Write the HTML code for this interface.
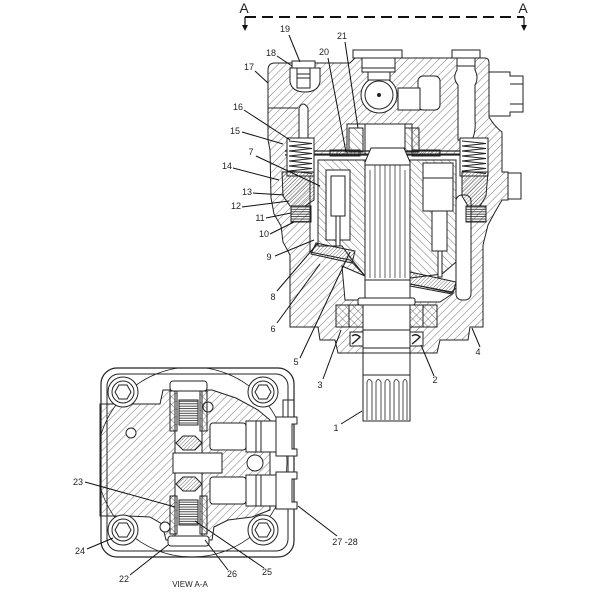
<!DOCTYPE html>
<html><head><meta charset="utf-8"><style>
html,body{margin:0;padding:0;background:#fff;}
svg{display:block;}
text{font-family:"Liberation Sans",sans-serif;font-size:9px;fill:#222;}
</style></head><body>
<svg width="600" height="600" viewBox="0 0 600 600" xmlns="http://www.w3.org/2000/svg">
<defs>
<pattern id="h" width="5.5" height="5.5" patternUnits="userSpaceOnUse" patternTransform="rotate(45)"><line x1="0" y1="0" x2="0" y2="5.5" stroke="#555" stroke-width="0.8"/></pattern>
<pattern id="h2" width="5.5" height="5.5" patternUnits="userSpaceOnUse" patternTransform="rotate(-45)"><line x1="0" y1="0" x2="0" y2="5.5" stroke="#555" stroke-width="0.8"/></pattern>
<pattern id="d" width="2.6" height="2.6" patternUnits="userSpaceOnUse" patternTransform="rotate(45)"><line x1="0" y1="0" x2="0" y2="2.6" stroke="#333" stroke-width="0.7"/></pattern>
<pattern id="hl" width="4" height="2.4" patternUnits="userSpaceOnUse"><line x1="0" y1="0.6" x2="4" y2="0.6" stroke="#222" stroke-width="0.8"/></pattern>
<clipPath id="fr"><rect x="101" y="368" width="193" height="189" rx="16"/></clipPath>
</defs>

<!-- Section line A-A -->
<line x1="245" y1="17" x2="524" y2="17" stroke="#111" stroke-width="2" stroke-dasharray="11,6"/>
<line x1="245" y1="17" x2="245" y2="26" stroke="#111" stroke-width="1.2"/>
<line x1="524" y1="17" x2="524" y2="26" stroke="#111" stroke-width="1.2"/>
<path d="M242,25 L248,25 L245,31 z" fill="#111"/>
<path d="M521,25 L527,25 L524,31 z" fill="#111"/>
<text x="244" y="13" text-anchor="middle" style="font-size:14px">A</text>
<text x="523" y="13" text-anchor="middle" style="font-size:14px">A</text>

<!-- ===== MAIN PUMP ===== -->
<g stroke="#222" stroke-width="1">
<path d="M268,70 Q268,63 275,63 L350,63 L355,58 L485,58 Q489,58 489,63 L489,117 Q495,127 502,132 L502,172 L508,172 L508,200 L502,200 L495,212 L488,225 L483,245 L483,327 L470,327 L468,340 L440,340 L437,353 L338,353 L335,340 L320,340 L318,327 L290,327 L290,255 L283,242 L281,226 L274,214 L271,198 L270,150 L268,140 Z" fill="url(#h)"/>
<rect x="508" y="173" width="13" height="26" fill="#fff"/>
<path d="M489,72 L510,72 L510,76 L523,76 L523,112 L510,112 L510,116 L489,116 Z" fill="#fff"/>
<line x1="510" y1="84" x2="523" y2="84"/><line x1="510" y1="104" x2="523" y2="104"/>
<rect x="353" y="50" width="49" height="8" fill="#fff"/>
<rect x="362" y="58" width="33" height="14" fill="#fff"/>
<line x1="362" y1="68" x2="395" y2="68"/>
<rect x="452" y="50" width="28" height="8" fill="#fff"/>
<path d="M457,58 L475,58 L475,70 Q479,78 475,85 L475,120 Q476,132 472,140 L458,140 L458,85 Q452,78 457,70 Z" fill="#fff"/>
<line x1="457" y1="66" x2="475" y2="66"/>
<path d="M290,68 L320,68 L320,82 Q318,92 305,92 Q292,92 290,82 Z" fill="#fff"/>
<rect x="292" y="61" width="23" height="7" fill="#fff"/>
<rect x="297" y="68" width="13" height="20" fill="#fff"/>
<line x1="297" y1="74" x2="310" y2="74"/><line x1="297" y1="78" x2="310" y2="78"/>
<line x1="268" y1="108" x2="298" y2="108"/>
<path d="M299,140 L299,108 Q303,100 308,108 L308,140 Z" fill="#fff"/>
<circle cx="379" cy="95" r="18" fill="#fff"/>
<circle cx="379" cy="95" r="14" fill="#fff"/>
<circle cx="379" cy="95" r="1.5" fill="#222"/>
<rect x="368" y="72" width="22" height="8" fill="#fff"/>
<rect x="418" y="76" width="22" height="34" rx="5" fill="#fff"/>
<rect x="398" y="88" width="22" height="22" fill="#fff"/>
<rect x="347" y="124" width="65" height="30" fill="#fff"/>
<rect x="349" y="128" width="14" height="24" fill="url(#h2)"/>
<rect x="405" y="128" width="14" height="24" fill="url(#h2)"/>
<rect x="365" y="124" width="40" height="30" fill="#fff"/>
<path d="M310,154 L462,154 L462,282 L452,292 L410,284 L365,276 L350,260 L310,252 Z" fill="#fff"/>
<rect x="456" y="195" width="15" height="105" rx="6" fill="#fff"/>
<line x1="285" y1="151" x2="462" y2="151" stroke-width="1.3"/>
<line x1="285" y1="155" x2="462" y2="155" stroke-width="1.3"/>
<rect x="330" y="150" width="30" height="6" fill="url(#d)"/>
<rect x="412" y="150" width="28" height="6" fill="url(#d)"/>
<rect x="287" y="138" width="27" height="38" fill="#fff"/>
<polyline fill="none" stroke-width="0.9" points="289,141 312,143.5 289,146 312,148.5 289,151 312,153.5 289,156 312,158.5 289,161 312,163.5 289,166 312,168.5 289,171 312,173.5"/>
<rect x="460" y="138" width="28" height="38" fill="#fff"/>
<polyline fill="none" stroke-width="0.9" points="462,141 486,143.5 462,146 486,148.5 462,151 486,153.5 462,156 486,158.5 462,161 486,163.5 462,166 486,168.5 462,171 486,173.5"/>
<path d="M282,172 L314,172 L314,200 L305,206 L290,206 L283,196 Z" fill="url(#d)"/>
<path d="M462,172 L488,172 L486,196 L480,206 L468,206 L462,196 Z" fill="url(#d)"/>
<rect x="291" y="206" width="20" height="16" fill="url(#hl)"/>
<rect x="466" y="206" width="20" height="16" fill="url(#hl)"/>
<path d="M318,160 L365,160 L365,276 L352,260 L342,246 L318,246 Z" fill="url(#h2)"/>
<path d="M410,160 L456,160 L456,262 L442,274 L410,278 Z" fill="url(#h2)"/>
<rect x="326" y="170" width="24" height="70" fill="#fff"/>
<rect x="331" y="176" width="14" height="40" fill="#fff"/>
<rect x="336" y="216" width="4" height="30" fill="#fff"/>
<rect x="423" y="163" width="30" height="48" fill="#fff"/>
<line x1="423" y1="178" x2="453" y2="178"/>
<rect x="432" y="211" width="15" height="40" fill="#fff"/>
<rect x="438" y="251" width="4" height="26" fill="#fff"/>
<path d="M316,243 L355,251 L352,263 L311,254 Z" fill="url(#d)"/>
<path d="M410,272 L456,282 L453,293 L410,284 Z" fill="url(#d)"/>
<path d="M342,266 L365,276 L365,300 L345,300 Z" fill="#fff"/>
<path d="M410,286 L452,294 L440,302 L410,302 Z" fill="#fff"/>
<path d="M371,148 L404,148 L410,162 L410,300 L365,300 L365,162 Z" fill="#fff"/>
<g stroke-width="0.7">
<line x1="370" y1="170" x2="370" y2="278"/><line x1="375" y1="165" x2="375" y2="278"/>
<line x1="380" y1="165" x2="380" y2="278"/><line x1="385" y1="165" x2="385" y2="278"/>
<line x1="390" y1="165" x2="390" y2="278"/><line x1="395" y1="165" x2="395" y2="278"/>
<line x1="400" y1="165" x2="400" y2="278"/><line x1="405" y1="170" x2="405" y2="278"/>
</g>
<line x1="365" y1="165" x2="410" y2="165"/>
<line x1="365" y1="280" x2="410" y2="280"/>
<rect x="336" y="305" width="27" height="22" fill="url(#h2)"/>
<rect x="410" y="305" width="27" height="22" fill="url(#h2)"/>
<line x1="349" y1="305" x2="349" y2="327"/><line x1="423" y1="305" x2="423" y2="327"/>
<rect x="350" y="332" width="13" height="14" fill="#fff"/>
<rect x="410" y="332" width="13" height="14" fill="#fff"/>
<path d="M352,336 q4,-3 8,1 q-4,4 -8,7" fill="none" stroke-width="1.4"/>
<path d="M412,336 q4,-3 8,1 q-4,4 -8,7" fill="none" stroke-width="1.4"/>
<rect x="358" y="298" width="57" height="7" rx="2" fill="#fff"/>
<rect x="363" y="305" width="47" height="116" fill="#fff"/>
<line x1="363" y1="330" x2="410" y2="330"/>
<line x1="363" y1="348" x2="410" y2="348"/>
<line x1="363" y1="353" x2="410" y2="353"/>
<line x1="363" y1="375" x2="410" y2="375"/>
<g stroke-width="0.8" fill="none">
<path d="M367,420 L367,382 Q369,377 372,382 L372,420"/>
<path d="M376,420 L376,382 Q378,377 381,382 L381,420"/>
<path d="M385,420 L385,382 Q387,377 390,382 L390,420"/>
<path d="M394,420 L394,382 Q396,377 399,382 L399,420"/>
<path d="M403,420 L403,382 Q405,377 407,382 L407,420"/>
</g>
</g>

<!-- ===== VIEW A-A ===== -->
<g stroke="#222" stroke-width="1">
<rect x="101" y="368" width="193" height="189" rx="16" fill="#fff" stroke-width="1.2"/>
<rect x="107" y="374" width="181" height="177" rx="12" fill="none"/>
<g clip-path="url(#fr)"><circle cx="192" cy="462" r="95" fill="none" stroke-width="0.8"/></g>
<path d="M100,404 L160,404 L163,390 L212,390 L236,398 L258,410 L270,420 L270,510 L252,517 L228,520 L214,527 L212,540 L166,540 L162,524 L150,517 L128,516 L100,516 Z" fill="url(#h)"/>
<circle cx="131" cy="433" r="5" fill="#fff"/>
<circle cx="208" cy="407" r="5" fill="#fff"/>
<circle cx="165" cy="527" r="5" fill="#fff"/>
<rect x="170" y="381" width="37" height="10" rx="3" fill="#fff"/>
<rect x="175" y="391" width="27" height="146" fill="#fff"/>
<rect x="170" y="391" width="7" height="40" fill="url(#h2)"/>
<rect x="200" y="391" width="7" height="40" fill="url(#h2)"/>
<rect x="179" y="400" width="19" height="25" fill="url(#hl)"/>
<path d="M176,443 L183,436 L195,436 L202,443 L195,450 L183,450 Z" fill="url(#d)"/>
<rect x="173" y="453" width="49" height="20" fill="#fff"/>
<path d="M176,484 L183,477 L195,477 L202,484 L195,491 L183,491 Z" fill="url(#d)"/>
<rect x="170" y="496" width="7" height="38" fill="url(#h2)"/>
<rect x="200" y="496" width="7" height="38" fill="url(#h2)"/>
<rect x="179" y="500" width="19" height="25" fill="url(#hl)"/>
<rect x="168" y="536" width="41" height="10" rx="3" fill="#fff"/>
<rect x="210" y="423" width="36" height="27" rx="3" fill="#fff"/>
<rect x="246" y="421" width="30" height="31" fill="#fff"/>
<line x1="256" y1="421" x2="256" y2="452"/><line x1="261" y1="421" x2="261" y2="452"/>
<path d="M276,417 L297,417 L297,424 L292,424 L292,449 L297,449 L297,456 L276,456 Z" fill="#fff"/>
<rect x="210" y="477" width="36" height="27" rx="3" fill="#fff"/>
<rect x="246" y="475" width="30" height="31" fill="#fff"/>
<line x1="256" y1="475" x2="256" y2="506"/><line x1="261" y1="475" x2="261" y2="506"/>
<path d="M276,472 L297,472 L297,479 L292,479 L292,502 L297,502 L297,509 L276,509 Z" fill="#fff"/>
<path d="M283,417 L283,400 L294,400 L294,417" fill="none"/>
<circle cx="255" cy="463" r="8" fill="#fff"/>
<g fill="#fff">
<circle cx="123" cy="392" r="15"/><circle cx="123" cy="392" r="11"/><polygon points="131,392 127,399 119,399 115,392 119,385 127,385"/>
<circle cx="263" cy="392" r="15"/><circle cx="263" cy="392" r="11"/><polygon points="271,392 267,399 259,399 255,392 259,385 267,385"/>
<circle cx="123" cy="530" r="15"/><circle cx="123" cy="530" r="11"/><polygon points="131,530 127,537 119,537 115,530 119,523 127,523"/>
<circle cx="263" cy="530" r="15"/><circle cx="263" cy="530" r="11"/><polygon points="271,530 267,537 259,537 255,530 259,523 267,523"/>
</g>
</g>

<!-- leader lines -->
<g stroke="#111" stroke-width="1">
<line x1="289" y1="35" x2="300" y2="62"/>
<line x1="277" y1="56" x2="292" y2="66"/>
<line x1="255" y1="71" x2="268" y2="83"/>
<line x1="328" y1="58" x2="346" y2="152"/>
<line x1="345" y1="42" x2="358" y2="128"/>
<line x1="244" y1="110" x2="290" y2="140"/>
<line x1="242" y1="132" x2="283" y2="144"/>
<line x1="256" y1="156" x2="320" y2="186"/>
<line x1="233" y1="168" x2="279" y2="180"/>
<line x1="253" y1="193" x2="284" y2="195"/>
<line x1="242" y1="207" x2="289" y2="201"/>
<line x1="266" y1="218" x2="291" y2="213"/>
<line x1="270" y1="234" x2="294" y2="222"/>
<line x1="275" y1="256" x2="314" y2="240"/>
<line x1="277" y1="291" x2="318" y2="243"/>
<line x1="277" y1="323" x2="320" y2="264"/>
<line x1="300" y1="358" x2="350" y2="252"/>
<line x1="323" y1="379" x2="341" y2="330"/>
<line x1="434" y1="376" x2="421" y2="345"/>
<line x1="480" y1="347" x2="472" y2="328"/>
<line x1="341" y1="424" x2="362" y2="411"/>
<line x1="85" y1="482" x2="175" y2="507"/>
<line x1="87" y1="549" x2="113" y2="538"/>
<line x1="130" y1="575" x2="168" y2="545"/>
<line x1="228" y1="570" x2="205" y2="540"/>
<line x1="264" y1="568" x2="195" y2="521"/>
<line x1="337" y1="536" x2="298" y2="506"/>
</g>

<g text-anchor="middle">
<text x="285" y="32">19</text>
<text x="271" y="56">18</text>
<text x="249" y="70">17</text>
<text x="324" y="55">20</text>
<text x="342" y="39">21</text>
<text x="238" y="110">16</text>
<text x="235" y="134">15</text>
<text x="251" y="155">7</text>
<text x="227" y="169">14</text>
<text x="247" y="195">13</text>
<text x="236" y="209">12</text>
<text x="260" y="221">11</text>
<text x="264" y="237">10</text>
<text x="269" y="260">9</text>
<text x="273" y="300">8</text>
<text x="273" y="332">6</text>
<text x="296" y="365">5</text>
<text x="320" y="388">3</text>
<text x="435" y="383">2</text>
<text x="478" y="355">4</text>
<text x="336" y="431">1</text>
<text x="78" y="485">23</text>
<text x="80" y="554">24</text>
<text x="124" y="582">22</text>
<text x="232" y="577">26</text>
<text x="267" y="575">25</text>
<text x="345" y="545">27 -28</text>
<text x="190" y="587" style="font-size:8px">VIEW A-A</text>
</g>
</svg>
</body></html>
